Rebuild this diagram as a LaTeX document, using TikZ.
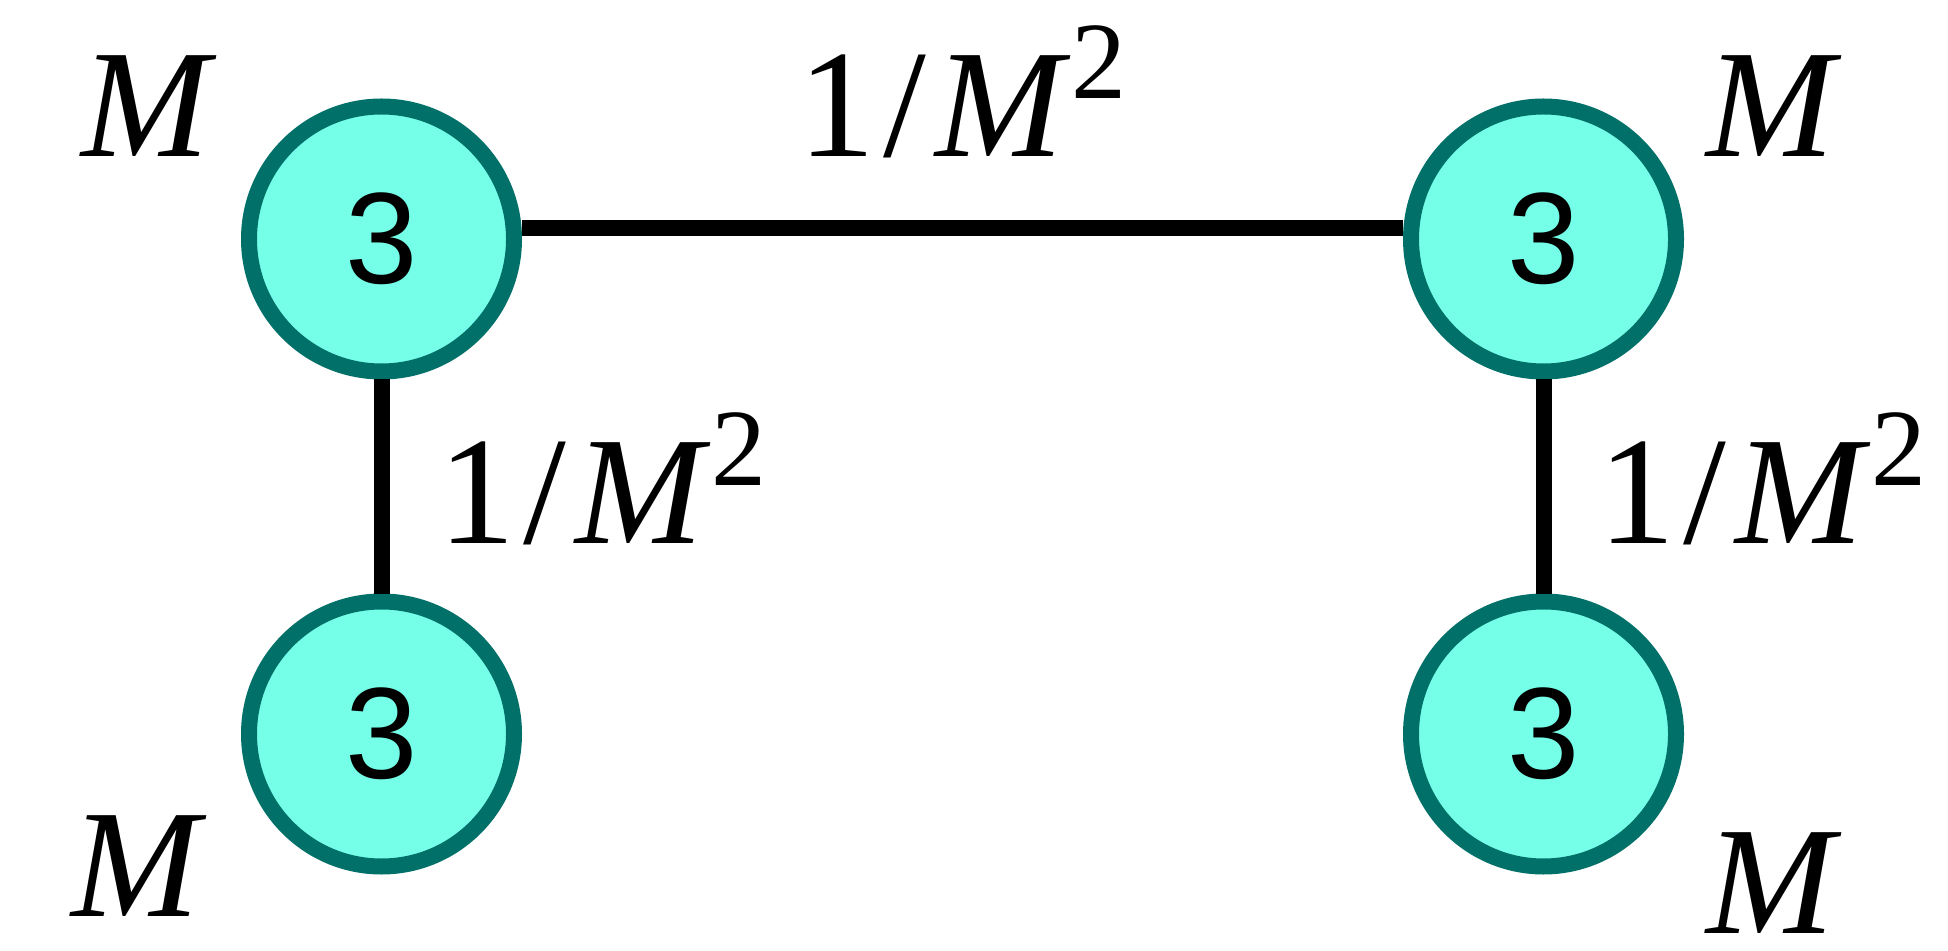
\documentclass[tikz,border=0pt]{standalone}
\usepackage{fontspec}
\setmainfont{Liberation Serif}
\newfontfamily\digitfont{Liberation Sans}
\definecolor{vfill}{RGB}{118,255,232}
\definecolor{vedge}{RGB}{0,112,104}
\newcommand{\invsq}{1\kern4pt/\kern4.5pt\textit{M}\kern0.5pt\raisebox{0.38em}{\fontsize{55}{55}\selectfont 2}}

\begin{document}
\begin{tikzpicture}[
    x=0.5pt, y=-0.5pt,
    vertex/.style={circle, draw=vedge, fill=vfill, line width=8pt, minimum size=132.5pt, inner sep=0pt, font=\digitfont\fontsize{65}{65}\selectfont},
    lbl/.style={anchor=base west, inner sep=0pt, font=\fontsize{77}{77}\selectfont},
    link/.style={line width=8pt}
]
\useasboundingbox (0,0) rectangle (1948,951);
\node[vertex] (TL) at (381.5, 239) {3};
\node[vertex] (TR) at (1543.5, 239) {3};
\node[vertex] (BL) at (381.5, 734) {3};
\node[vertex] (BR) at (1543.5, 734) {3};
\draw[link] ([yshift=5.5pt]TL.east) -- ([yshift=5.5pt]TR.west);
\draw[link] (TL.south) -- (BL.north);
\draw[link] (TR.south) -- (BR.north);
% masses
\node[lbl] (mTL) at (81, 157) {\textit{M}};
\node[lbl] (mTR) at (1706, 157) {\textit{M}};
\node[lbl] (mBL) at (71, 916) {\textit{M}};
\node[lbl] (mBR) at (1706, 933) {\textit{M}};
% couplings
\node[lbl] (cT) at (798, 157) {\invsq};
\node[lbl] (cL) at (438, 544) {\invsq};
\node[lbl] (cR) at (1598, 544) {\invsq};
\end{tikzpicture}
\end{document}
